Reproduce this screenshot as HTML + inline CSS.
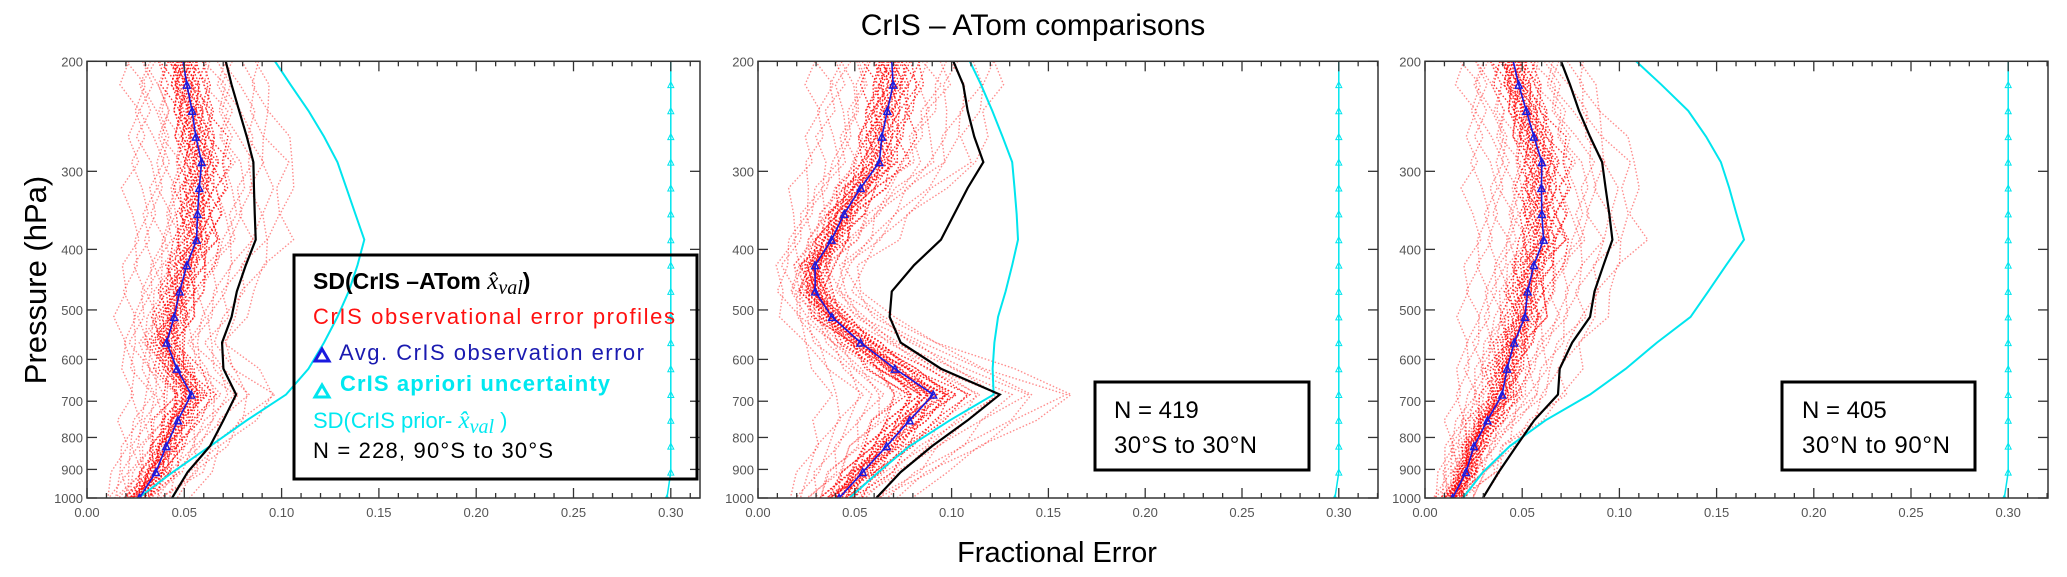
<!DOCTYPE html>
<html><head><meta charset="utf-8"><style>
html,body{margin:0;padding:0;background:#fff;}
svg{display:block;font-family:"Liberation Sans",sans-serif;}
</style></head><body>
<svg id="chart" width="2067" height="577" viewBox="0 0 2067 577" xmlns="http://www.w3.org/2000/svg">
<text x="1033" y="35" font-size="30" text-anchor="middle" fill="#000">CrIS – ATom comparisons</text>
<text transform="translate(46,280) rotate(-90)" font-size="31" text-anchor="middle" fill="#000">Pressure (hPa)</text>
<text x="1057" y="562" font-size="29" text-anchor="middle" fill="#000">Fractional Error</text>
<g id="panels"></g>
</svg>
<script>
// pressure levels (hPa), top to bottom
const levels = [200,218,240,264,290,319,351,386,424,467,513,564,621,683,751,826,909,1000];
const pTicks = [200,300,400,500,600,700,800,900,1000];
const xTicks = [0,0.05,0.10,0.15,0.20,0.25,0.30];
const xTickLabels = ["0.00","0.05","0.10","0.15","0.20","0.25","0.30"];
// panel 1: 90S-30S
const avg1 = [.0494,.0513,.054,.0559,.0589,.0577,.0568,.0563,.0513,.0476,.0448,.0409,.0462,.0536,.0467,.0407,.0354,.0269];
const sdVal1 = [.0713,.0743,.0782,.0821,.0855,.0858,.0862,.0867,.0816,.077,.0743,.0694,.0701,.0766,.0701,.0632,.0517,.0437];
const sdPrior1 = [.0966,.1046,.1138,.1218,.1287,.1333,.1379,.1425,.139,.1345,.1287,.1218,.1138,.1023,.0821,.0632,.0441,.0264];
// panel 2: 30S-30N
const avg2 = [.0691,.0698,.0668,.064,.0627,.053,.0445,.038,.0295,.0295,.0382,.053,.0707,.0905,.0783,.0664,.0541,.0419];
const sdVal2 = [.1009,.106,.1083,.1117,.1164,.1083,.1014,.0945,.0806,.0691,.068,.0737,.0945,.1249,.1083,.0899,.0737,.0611];
const sdPrior2 = [.1094,.1152,.121,.1263,.1313,.1325,.1336,.1343,.1313,.1279,.124,.1221,.1212,.1217,.0991,.0783,.0622,.0472];
// panel 3: 30N-90N
const avg3 = [.0454,.0482,.0521,.056,.0601,.0599,.0601,.061,.056,.0528,.0514,.0459,.0422,.0397,.0321,.0252,.0211,.0142];
const sdVal3 = [.07,.0746,.0792,.0849,.0911,.0929,.0948,.0964,.0918,.0872,.0849,.0757,.0693,.0684,.0562,.047,.0379,.0298];
const sdPrior3 = [.1086,.1216,.1354,.1446,.1522,.1565,.1602,.1641,.1549,.1457,.1366,.1193,.1033,.0849,.062,.0436,.0298,.0195];
// a priori uncertainty (constant)
const apriori = [.30,.30,.30,.30,.30,.30,.30,.30,.30,.30,.30,.30,.30,.30,.30,.30,.30,.298];
// individual profile spread factors and per-level perturbations
const spread = [0.4,0.48,0.55,0.6,0.65,0.7,0.73,0.76,0.79,0.82,0.84,0.86,0.88,0.9,0.91,0.92,0.93,0.94,0.95,0.96,0.97,0.98,0.99,1.0,1.01,1.02,1.03,1.04,1.05,1.06,1.08,1.1,1.12,1.14,1.17,1.2,1.24,1.28,1.33,1.38,1.45,1.52,1.6,1.7,1.8];
const wiggle = [0.3,-0.6,0.9,-0.2,0.5,-0.9,0.1,0.7,-0.4,0.2,-0.7,0.6,-0.1,0.4,-0.5,0.8,-0.3,0.0];

const NS='http://www.w3.org/2000/svg';
const root=document.getElementById('panels');
function mk(tag,attrs,parent){const e=document.createElementNS(NS,tag);for(const k in attrs)e.setAttribute(k,attrs[k]);(parent||root).appendChild(e);return e;}
const TOP=61.3,BOT=498;
function yS(p){return TOP+Math.log(p/200)/Math.log(5)*(BOT-TOP);}

const panels=[
 {left:87,right:700,unit:97.3,avg:avg1,sdv:sdVal1,sdp:sdPrior1,name:'panel-90s-30s'},
 {left:758,right:1378,unit:96.8,avg:avg2,sdv:sdVal2,sdp:sdPrior2,name:'panel-30s-30n'},
 {left:1425,right:2048,unit:97.2,avg:avg3,sdv:sdVal3,sdp:sdPrior3,name:'panel-30n-90n'}
];

panels.forEach((P)=>{
 const xS=v=>P.left+v/0.05*P.unit;
 const g=mk('g',{});
 
 
 const clipId='clip-'+P.name;
 const cp=mk('clipPath',{id:clipId},g);
 mk('rect',{x:P.left,y:TOP,width:P.right-P.left,height:BOT-TOP},cp);
 const data=mk('g',{'clip-path':'url(#'+clipId+')'},g);
 // red individual profiles
 spread.forEach((f,k)=>{
  const pts=levels.map((p,i)=>xS(Math.max(0.002,P.avg[i]*f+wiggle[(i+k)%wiggle.length]*0.006))+','+yS(p)).join(' ');
  const pl=mk('polyline',{points:pts,fill:'none',stroke:'#ff0000','stroke-width':1.4,'stroke-dasharray':'1.5 2','stroke-opacity':(Math.abs(f-1)<0.2?0.8:0.45)},data);
  
  
 });
 // sd prior cyan
 const c=mk('polyline',{points:levels.map((p,i)=>xS(P.sdp[i])+','+yS(p)).join(' '),fill:'none',stroke:'#00e5ee','stroke-width':2},data);
 
 
 // sd val black
 const b=mk('polyline',{points:levels.map((p,i)=>xS(P.sdv[i])+','+yS(p)).join(' '),fill:'none',stroke:'#000','stroke-width':2.2},data);
 
 
 // apriori
 const a=mk('polyline',{points:levels.map((p,i)=>xS(apriori[i])+','+yS(p)).join(' '),fill:'none',stroke:'#00e5ee','stroke-width':1.5},data);
 
 
 levels.forEach((p,i)=>{if(i===0)return;const x=xS(apriori[i]),y=yS(p);
  const t=mk('polygon',{points:`${x-3},${y+3} ${x+3},${y+3} ${x},${y-3}`,fill:'none',stroke:'#00e5ee','stroke-width':1},data);
  
  });
 // avg blue
 const bl=mk('polyline',{points:levels.map((p,i)=>xS(P.avg[i])+','+yS(p)).join(' '),fill:'none',stroke:'#1a1adf','stroke-width':1.6},data);
 
 
 levels.forEach((p,i)=>{if(i===0)return;const x=xS(P.avg[i]),y=yS(p);
  const t=mk('polygon',{points:`${x-3.5},${y+3.5} ${x+3.5},${y+3.5} ${x},${y-3.5}`,fill:'none',stroke:'#1a1adf','stroke-width':1.4},data);
  
  });
 // frame
 const fr=mk('rect',{x:P.left,y:TOP,width:P.right-P.left,height:BOT-TOP,fill:'none',stroke:'#333','stroke-width':1.5},g);
 
 
 // x ticks
 for(let m=0;m*0.01<=(P.right-P.left)/P.unit*0.05+1e-9;m++){
  const x=xS(m*0.01);const len=(m%5===0)?10:5;
  mk('line',{x1:x,x2:x,y1:BOT,y2:BOT-len,stroke:'#333','stroke-width':1.3},g);
  mk('line',{x1:x,x2:x,y1:TOP,y2:TOP+len,stroke:'#333','stroke-width':1.3},g);
 }
 xTicks.forEach((v,i)=>{
  const t=mk('text',{x:xS(v),y:517,'font-size':13,'text-anchor':'middle',fill:'#555'},g);
  t.textContent=xTickLabels[i];
  
  
 });
 pTicks.forEach(p=>{
  const y=yS(p);
  mk('line',{x1:P.left,x2:P.left+10,y1:y,y2:y,stroke:'#333','stroke-width':1.3},g);
  mk('line',{x1:P.right,x2:P.right-10,y1:y,y2:y,stroke:'#333','stroke-width':1.3},g);
  const t=mk('text',{x:P.left-4,y:y+5,'font-size':13,'text-anchor':'end',fill:'#555'},g);
  t.textContent=String(p);
  
  
 });
});
</script>
<svg style="position:absolute;left:0;top:0" width="2067" height="577" font-family="Liberation Sans, sans-serif">
 <g>
  <rect x="294" y="255" width="403" height="224" fill="none" stroke="#000" stroke-width="3"/>
  <text x="313" y="289" font-size="23" font-weight="bold" fill="#000">SD(CrIS –ATom <tspan font-family="Liberation Serif, serif" font-style="italic" font-weight="normal" font-size="25">x̂</tspan><tspan font-family="Liberation Serif, serif" font-style="italic" font-weight="normal" font-size="20" dy="5">val</tspan><tspan dy="-5">)</tspan></text>
  <text x="313" y="324" font-size="22" fill="#ff1010" textLength="362">CrIS observational error profiles</text>
  <polygon points="315,361 329,361 322,349" fill="none" stroke="#1a1adf" stroke-width="3"/>
  <text x="339" y="360" font-size="22" fill="#1a1ab0" textLength="305">Avg. CrIS observation error</text>
  <polygon points="315,397 329,397 322,385" fill="none" stroke="#00e5ee" stroke-width="3"/>
  <text x="340" y="391" font-size="22" font-weight="bold" fill="#00e8f0" textLength="270">CrIS apriori uncertainty</text>
  <text x="313" y="428" font-size="22" fill="#00e8f0">SD(CrIS prior- <tspan font-family="Liberation Serif, serif" font-style="italic" font-size="25">x̂</tspan><tspan font-family="Liberation Serif, serif" font-style="italic" font-size="20" dy="5">val</tspan><tspan dy="-5"> )</tspan></text>
  <text x="313" y="458" font-size="22" fill="#000" textLength="240">N = 228, 90°S to 30°S</text>
 </g>
 <g>
  <rect x="1095" y="382" width="214" height="88" fill="#fff" stroke="#000" stroke-width="3"/>
  <text x="1114" y="418" font-size="24" fill="#000">N = 419</text>
  <text x="1114" y="453" font-size="24" fill="#000" textLength="143">30°S to 30°N</text>
 </g>
 <g>
  <rect x="1782" y="382" width="193" height="88" fill="#fff" stroke="#000" stroke-width="3"/>
  <text x="1802" y="418" font-size="24" fill="#000">N = 405</text>
  <text x="1802" y="453" font-size="24" fill="#000" textLength="148">30°N to 90°N</text>
 </g>
</svg>
</body></html>
